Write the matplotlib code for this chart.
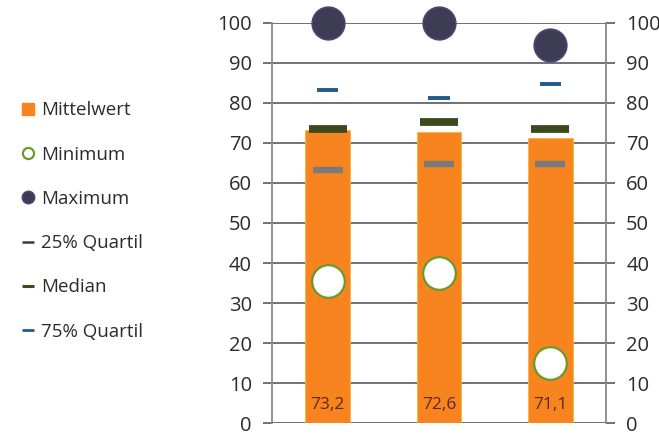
import matplotlib.pyplot as plt
from matplotlib.lines import Line2D

plt.rcParams['font.family'] = ['Open Sans', 'DejaVu Sans']

groups = ['A', 'B', 'C']
mean = [73.2, 72.6, 71.1]
minimum = [35.4, 37.6, 15.0]
maximum = [100.0, 100.0, 94.4]
q25 = [63.2, 64.8, 64.8]
median = [73.5, 75.2, 73.5]
q75 = [83.3, 81.3, 84.6]
ticks = [0, 10, 20, 30, 40, 50, 60, 70, 80, 90, 100]

orange = '#F7841E'
green_edge = '#6A9A2A'
max_col = '#3E3C55'
max_edge = '#4E4478'
q25_col = '#7A7A7A'
med_col = '#3A4A1C'
q75_col = '#1F5B8C'
grid_col = '#4A4A4A'

fig = plt.figure(figsize=(6.59, 4.37), dpi=100)
ax = fig.add_axes([272 / 659, 13.7 / 437, 334 / 659, 400.6 / 437])

x = list(range(len(groups)))
ax.bar(x, mean, width=0.40, color=orange, edgecolor='#F9B43A', linewidth=0.6, zorder=2)

# quartile and median marks
ax.hlines(q25, [i - 0.135 for i in x], [i + 0.135 for i in x], colors=q25_col, lw=4.6, zorder=3)
ax.hlines(median, [i - 0.17 for i in x], [i + 0.17 for i in x], colors=med_col, lw=5.6, zorder=3)
ax.hlines(q75, [i - 0.095 for i in x], [i + 0.095 for i in x], colors=q75_col, lw=2.8, zorder=3)

ax.plot(x, minimum, 'o', ms=23.5, mfc='white', mec=green_edge, mew=1.6, ls='none', zorder=4)
ax.plot(x, maximum, 'o', ms=23.5, mfc=max_col, mec=max_edge, mew=1.2, ls='none', zorder=4,
        clip_on=False)

for i, v in enumerate(mean):
    ax.text(i, 4.6, f'{v:.1f}'.replace('.', ','), ha='center', va='center',
            fontsize=12.5, color='#5B2A12', zorder=5)

ax.set_xlim(-0.5, 2.5)
ax.set_ylim(0, 100)
ax.set_yticks(ticks)
ax.set_xticks([])
ax.yaxis.grid(True, color=grid_col, lw=1.1)
ax.set_axisbelow(True)
for s in ['top', 'bottom']:
    ax.spines[s].set_visible(False)
for s in ['left', 'right']:
    ax.spines[s].set_color('#8A8A8A')
    ax.spines[s].set_linewidth(1.3)
ax.tick_params(axis='y', which='both', direction='out', length=6.5, width=1.1,
               color=grid_col, labelsize=14.5, labelcolor='#2B2B2B',
               left=True, right=True, labelleft=True, labelright=True, pad=8)

handles = [
    Line2D([], [], marker='s', ms=9, color=orange, ls='none'),
    Line2D([], [], marker='o', ms=8, mfc='white', mec=green_edge, mew=1.6, ls='none'),
    Line2D([], [], marker='o', ms=9, mfc=max_col, mec=max_edge, ls='none'),
    Line2D([], [], marker='_', ms=8, mew=1.8, color='#3A3A3A', ls='none'),
    Line2D([], [], marker='_', ms=8, mew=2.2, color=med_col, ls='none'),
    Line2D([], [], marker='_', ms=8, mew=2.0, color=q75_col, ls='none'),
]
labels = ['Mittelwert', 'Minimum', 'Maximum', '25% Quartil', 'Median', '75% Quartil']
fig.legend(handles, labels, loc='upper left', bbox_to_anchor=(0.02, 0.785),
           frameon=False, fontsize=13.5, handlelength=0.8, handletextpad=0.3,
           labelspacing=1.4, borderaxespad=0.0, labelcolor='#2B2B2B')

fig.savefig('out.png', dpi=100)
